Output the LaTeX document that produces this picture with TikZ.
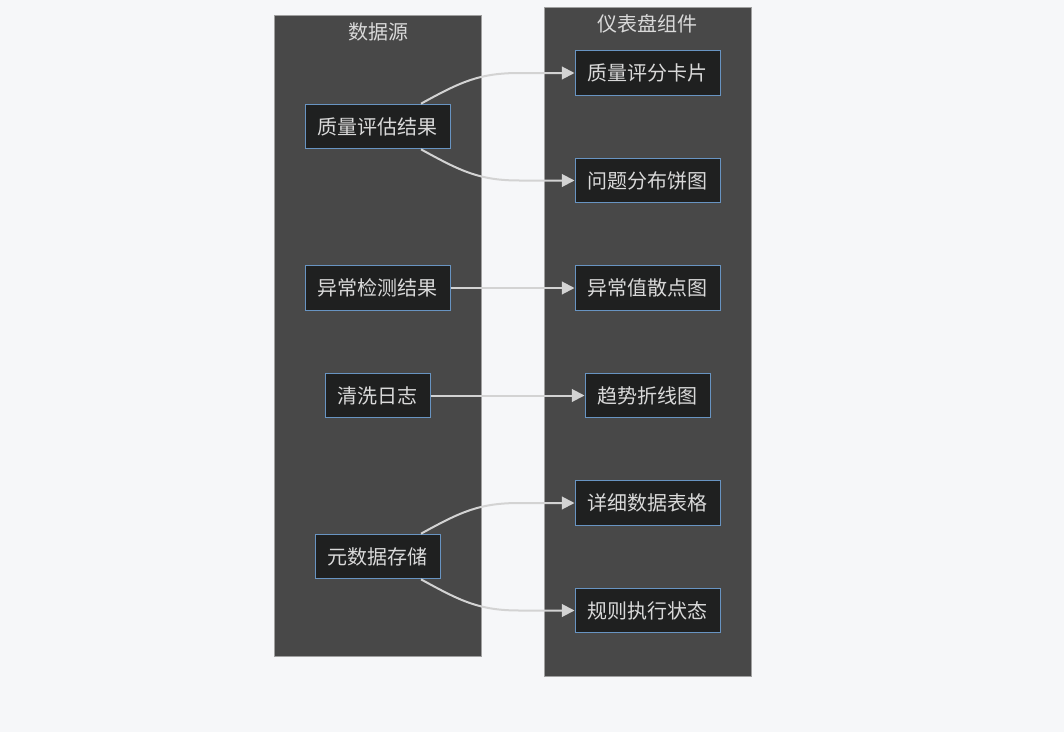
\documentclass[tikz,border=0pt]{standalone}
\usepackage{fontspec}
\setmainfont{Noto Sans CJK SC}
\usetikzlibrary{arrows.meta,calc}
\definecolor{bg}{HTML}{F6F7F9}
\definecolor{clfill}{HTML}{484848}
\definecolor{clline}{HTML}{A0A0A0}
\definecolor{nfill}{HTML}{1F2020}
\definecolor{nline}{HTML}{6894C2}
\definecolor{txt}{HTML}{D9D9D9}
\definecolor{edge}{HTML}{D3D3D3}
\tikzset{
  cluster/.style={fill=clfill,draw=clline,line width=0.75pt},
  cltitle/.style={text=txt,font=\fontsize{15}{18}\selectfont,inner sep=0pt},
  box/.style={rectangle,fill=nfill,draw=nline,line width=0.75pt,text=txt,
    font=\fontsize{15}{18}\selectfont,minimum height=33.5pt,inner xsep=9pt,inner ysep=0pt},
  link/.style={draw=edge,line width=1.5pt,-{Triangle[length=9.5pt,width=9.5pt]}}
}
\begin{document}
\begin{tikzpicture}[x=0.75pt,y=-0.75pt]
\fill[bg] (0,0) rectangle (1064,732);
\useasboundingbox (0,0) rectangle (1064,732);
% clusters
\draw[cluster] (274,15) rectangle (481,656);
\draw[cluster] (544,7) rectangle (751,676);
\node[cltitle] (t1) at (378,32) {数据源};
\node[cltitle] (t2) at (647.5,24) {仪表盘组件};
% left nodes
\node[box,minimum width=108.75pt] (s1) at (377.5,126.5) {质量评估结果};
\node[box,minimum width=108.75pt] (s2) at (377.5,288) {异常检测结果};
\node[box,minimum width=78.75pt] (s3) at (377.5,395.5) {清洗日志};
\node[box,minimum width=93.75pt] (s4) at (377.5,556.5) {元数据存储};
% right nodes
\node[box,minimum width=108.75pt] (d1) at (647.5,73) {质量评分卡片};
\node[box,minimum width=108.75pt] (d2) at (647.5,180.5) {问题分布饼图};
\node[box,minimum width=108.75pt] (d3) at (647.5,288) {异常值散点图};
\node[box,minimum width=93.75pt] (d4) at (647.5,395.5) {趋势折线图};
\node[box,minimum width=108.75pt] (d5) at (647.5,503) {详细数据表格};
\node[box,minimum width=108.75pt] (d6) at (647.5,610.5) {规则执行状态};
% edges
\coordinate (a1) at ($(s1.north)+(43.5,0)$);
\coordinate (a2) at ($(s1.south)+(43.5,0)$);
\coordinate (a4) at ($(s4.north)+(43.5,0)$);
\coordinate (a5) at ($(s4.south)+(43.5,0)$);
\draw[link] (a1) .. controls ($(a1)+(40,-22)$) and ($(d1.west)+(-95,0)$) .. ($(d1.west)+(-55,0)$) -- (d1.west);
\draw[link] (a2) .. controls ($(a2)+(40,22)$) and ($(d2.west)+(-95,0)$) .. ($(d2.west)+(-55,0)$) -- (d2.west);
\draw[link] (s2.east) -- (d3.west);
\draw[link] (s3.east) -- (d4.west);
\draw[link] (a4) .. controls ($(a4)+(40,-22)$) and ($(d5.west)+(-95,0)$) .. ($(d5.west)+(-55,0)$) -- (d5.west);
\draw[link] (a5) .. controls ($(a5)+(40,22)$) and ($(d6.west)+(-95,0)$) .. ($(d6.west)+(-55,0)$) -- (d6.west);
\end{tikzpicture}
\end{document}
